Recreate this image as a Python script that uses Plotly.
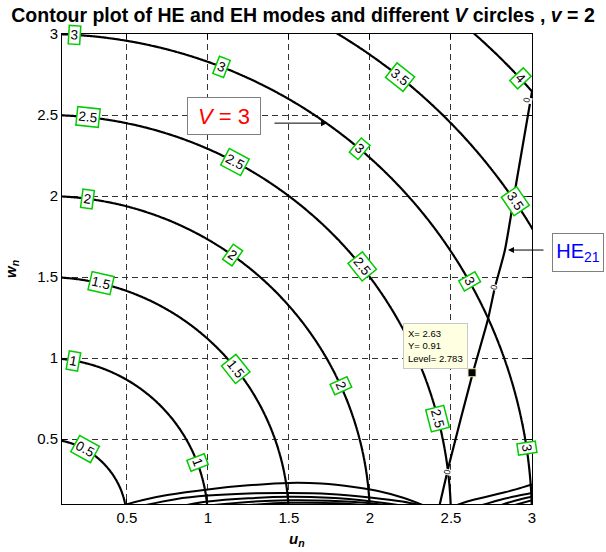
import math
import numpy as np
import plotly.graph_objects as go

# ---- data ----
V_levels = [0.5, 1.0, 1.5, 2.0, 2.5, 3.0, 3.5, 4.0]

# contour label placement: level and u position along each circle
label_levels = [3, 2.5, 2, 1.5, 1, 0.5, 3, 2.5, 2, 1.5, 1, 3.5, 3, 2.5, 2, 4, 3.5, 3, 2.5, 3]
label_u = [0.179, 0.261, 0.257, 0.338, 0.173, 0.241, 1.086, 1.167, 1.152, 1.173, 0.934,
           2.185, 1.938, 1.949, 1.821, 2.926, 2.895, 2.613, 2.42, 2.967]

# HE21 mode curve
he21_u = [2.42, 2.49, 2.634, 2.727, 2.772, 2.833, 2.906, 3.0]
he21_w = [0.05, 0.35, 0.906, 1.235, 1.44, 1.667, 2.099, 2.644]
zero_label_u = [2.475, 2.765, 2.967]
zero_label_w = [0.30, 1.44, 2.593]

# low mode contours near the bottom
arch_u = [
    [0.47, 0.6, 0.75, 1.0, 1.25, 1.5, 1.7, 1.9, 2.05, 2.2, 2.36],
    [0.6, 0.8, 1.0, 1.25, 1.5, 1.75, 2.0, 2.2, 2.32],
    [0.85, 1.0, 1.25, 1.5, 1.75, 2.0, 2.2],
    [1.0, 1.25, 1.5, 1.75, 2.0, 2.12],
    [1.2, 1.5, 1.8, 2.0],
    [2.5, 2.6, 2.7, 2.8, 2.9, 3.0],
    [2.68, 2.8, 2.9, 3.0],
    [2.8, 2.9, 3.0],
    [2.88, 3.0],
]
arch_w = [
    [0.09, 0.125, 0.155, 0.19, 0.215, 0.23, 0.226, 0.205, 0.18, 0.14, 0.08],
    [0.09, 0.13, 0.152, 0.165, 0.168, 0.162, 0.14, 0.115, 0.09],
    [0.09, 0.115, 0.135, 0.144, 0.138, 0.117, 0.09],
    [0.09, 0.113, 0.123, 0.12, 0.105, 0.09],
    [0.09, 0.107, 0.105, 0.092],
    [0.08, 0.115, 0.14, 0.165, 0.19, 0.22],
    [0.09, 0.125, 0.148, 0.168],
    [0.09, 0.122, 0.145],
    [0.09, 0.123],
]

tip_u = [2.63]
tip_w = [0.91]
tip_level = 2.783

tick_vals = [0.5, 1, 1.5, 2, 2.5, 3]
tick_text = ["0.5", "1", "1.5", "2", "2.5", "3"]

FONT = "Liberation Sans, Arial, sans-serif"

fig = go.Figure()

# V circles as a contour of V = sqrt(u^2 + w^2)
ug = np.linspace(0.05, 3.05, 401)
wg = np.linspace(0.05, 3.05, 401)
U, W = np.meshgrid(ug, wg)
Z = np.sqrt(U ** 2 + W ** 2)
fig.add_trace(go.Contour(
    x=ug, y=wg, z=Z,
    contours=dict(start=V_levels[0], end=V_levels[-1], size=V_levels[1] - V_levels[0],
                  coloring="lines", showlabels=False),
    colorscale=[[0, "black"], [1, "black"]],
    line=dict(width=2.2), showscale=False, hoverinfo="skip",
))

for au, aw in zip(arch_u, arch_w):
    fig.add_trace(go.Scatter(x=au, y=aw, mode="lines", line=dict(color="black", width=2, shape="spline"),
                             showlegend=False, hoverinfo="skip"))

fig.add_trace(go.Scatter(x=he21_u, y=he21_w, mode="lines",
                         line=dict(color="black", width=2.2, shape="spline", smoothing=0.6),
                         showlegend=False, hoverinfo="skip"))

fig.add_trace(go.Scatter(x=tip_u, y=tip_w, mode="markers",
                         marker=dict(symbol="square", size=8, color="black",
                                     line=dict(color="#e8e6a8", width=1)),
                         showlegend=False, hoverinfo="skip"))

annotations = []
# contour level labels in green boxes
for v, u in zip(label_levels, label_u):
    w = math.sqrt(max(v * v - u * u, 0))
    ang = math.degrees(math.atan2(u, w))
    annotations.append(dict(
        x=u, y=w, xref="x", yref="y", text=f"{v:g}", showarrow=False,
        xanchor="center", yanchor="middle",
        textangle=ang, font=dict(family=FONT, size=13.5, color="black"),
        bgcolor="white", bordercolor="#00cc00", borderwidth=1.5, borderpad=1,
    ))
# zero labels on the HE21 curve
for u, w in zip(zero_label_u, zero_label_w):
    annotations.append(dict(
        x=u, y=w, xref="x", yref="y", text="0", showarrow=False, textangle=-76,
        xanchor="center", yanchor="middle",
        font=dict(family=FONT, size=9, color="black"), bgcolor="white", borderpad=0,
    ))

# V = 3 box and arrow
annotations.append(dict(x=1.102, y=2.494, xref="x", yref="y", text="<i>V</i> = 3", showarrow=False,
                        xanchor="center", yanchor="middle",
                        font=dict(family=FONT, size=22, color="red"), bgcolor="white",
                        bordercolor="#808080", borderwidth=1, width=70, height=34, borderpad=1))
annotations.append(dict(x=1.735, y=2.45, xref="x", yref="y", text="", showarrow=True,
                        ax=-54, ay=0, arrowhead=2, arrowsize=1.2, arrowwidth=1, arrowcolor="black"))
# HE21 box (paper coordinates, right of the axes) and arrow
annotations.append(dict(x=(578 - 62) / 470, y=(504 - 252.5) / 470, xref="paper", yref="paper",
                        text="HE<sub>21</sub>", showarrow=False, xanchor="center", yanchor="middle",
                        font=dict(family=FONT, size=20, color="blue"), bgcolor="white",
                        bordercolor="#808080", borderwidth=1, width=48, height=35, borderpad=1))
annotations.append(dict(x=2.852, y=1.667, xref="x", yref="y", text="", showarrow=True,
                        ax=37, ay=0, arrowhead=2, arrowsize=1.2, arrowwidth=1, arrowcolor="black"))
# data tip
annotations.append(dict(x=2.204, y=1.216, xref="x", yref="y", xanchor="left", yanchor="top",
                        text=f"X= {tip_u[0]:.2f}<br>Y= {tip_w[0]:.2f}<br>Level= {tip_level}",
                        align="left", showarrow=False,
                        font=dict(family=FONT, size=9.5, color="black"), bgcolor="#ffffe1",
                        bordercolor="#c8c8c8", borderwidth=1, borderpad=4))

# axis titles
annotations.append(dict(x=0.5, y=-(539 - 504) / 470, xref="paper", yref="paper",
                        text="<b><i>u<sub>n</sub></i></b>", xanchor="center", yanchor="middle",
                        showarrow=False, font=dict(family=FONT, size=15, color="black")))
annotations.append(dict(x=-(62 - 11) / 470, y=0.5, xref="paper", yref="paper",
                        text="<b><i>w<sub>n</sub></i></b>", xanchor="center", yanchor="middle",
                        textangle=-90, showarrow=False, font=dict(family=FONT, size=15, color="black")))

fig.update_layout(
    width=606, height=552,
    margin=dict(l=62, r=74, t=34, b=48),
    paper_bgcolor="white", plot_bgcolor="white",
    showlegend=False,
    title=dict(text="<b>Contour plot of HE and EH modes and different <i>V</i> circles , <i>v</i> = 2</b>",
               x=0.5, xref="container", xanchor="center", y=1 - 15.5 / 552, yanchor="middle",
               font=dict(family=FONT, size=19.5, color="black")),
    annotations=annotations,
    font=dict(family=FONT, color="black"),
)
axis_common = dict(
    showline=True, linecolor="black", linewidth=1, mirror="ticks",
    ticks="inside", ticklen=5, tickcolor="black",
    showgrid=True, gridcolor="#333333", gridwidth=1, griddash="6px,4px",
    zeroline=False, tickfont=dict(family=FONT, size=15, color="black"),
    tickvals=tick_vals, ticktext=tick_text,
)
fig.update_xaxes(range=[0.1, 3], **axis_common)
fig.update_yaxes(range=[0.1, 3], **axis_common)

fig.write_html("out.html", config={"displayModeBar": False},
               post_script="document.body.style.margin='0';document.body.style.overflow='hidden';")
